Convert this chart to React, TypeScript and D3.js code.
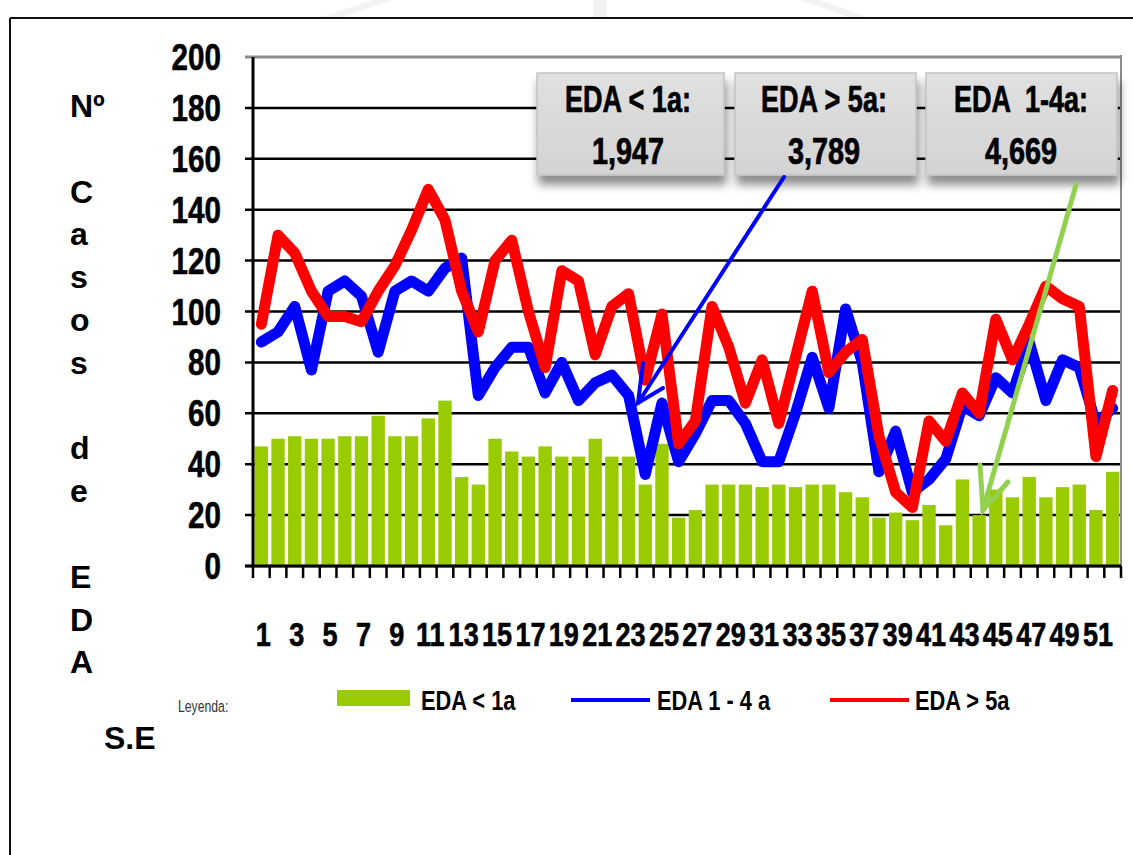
import React from 'react';
import * as d3 from 'd3';

// semanas epidemiologicas
const weeks = [
  1, 2, 3, 4, 5, 6, 7, 8, 9, 10, 11, 12, 13, 14, 15, 16, 17, 18, 19, 20, 21, 22, 23, 24, 25, 26,
  27, 28, 29, 30, 31, 32, 33, 34, 35, 36, 37, 38, 39, 40, 41, 42, 43, 44, 45, 46, 47, 48, 49, 50, 51, 52,
];

// EDA < 1a (barras)
const edaMenor1a = [
  47, 50, 51, 50, 50, 51, 51, 59, 51, 51, 58, 65, 35, 32, 50, 45, 43, 47, 43, 43, 50, 43, 43, 32, 48, 19,
  22, 32, 32, 32, 31, 32, 31, 32, 32, 29, 27, 19, 21, 18, 24, 16, 34, 20, 30, 27, 35, 27, 31, 32, 22, 37,
];

// EDA 1 - 4 a (linea azul)
const eda1a4a = [
  88, 92, 102, 77, 108, 112, 106, 84, 108, 112, 108, 117, 121, 67, 78, 86, 86, 68, 80, 65, 72, 75, 67, 36, 64, 41,
  52, 65, 65, 56, 41, 41, 60, 82, 62, 101, 80, 37, 53, 29, 34, 42, 63, 59, 74, 68, 88, 65, 81, 78, 56, 62,
];

// EDA > 5a (linea roja)
const edaMayor5a = [
  95, 130, 123, 108, 98, 98, 96, 108, 118, 132, 148, 136, 108, 92, 120, 128, 100, 78, 116, 112, 83, 102, 107, 73, 99, 48,
  57, 102, 86, 64, 81, 56, 82, 108, 76, 84, 89, 51, 29, 23, 57, 49, 68, 60, 97, 81, 95, 110, 105, 102, 43, 69,
];

const yTicks = [0, 20, 40, 60, 80, 100, 120, 140, 160, 180, 200];
const xTickLabels = [1, 3, 5, 7, 9, 11, 13, 15, 17, 19, 21, 23, 25, 27, 29, 31, 33, 35, 37, 39, 41, 43, 45, 47, 49, 51];

const boxTitles = ['EDA < 1a:', 'EDA > 5a:', 'EDA  1-4a:'];
const boxTotals = ['1,947', '3,789', '4,669'];

const sideLetters = ['Nº', '', 'C', 'a', 's', 'o', 's', '', 'd', 'e', '', 'E', 'D', 'A'];

const legendLabels = ['EDA < 1a', 'EDA 1 - 4 a', 'EDA > 5a'];

const FONT = "'Liberation Sans', Arial, Helvetica, sans-serif";
const GREEN = '#99cc00';
const BLUE = '#0000ff';
const RED = '#ff0000';

const W = 1133;
const H = 855;
const plot = { left: 253, right: 1121, top: 57, bottom: 566 };

const Narrow = ({ x, y, sx, size, anchor, weight, fill, heavy, children }: any) => (
  <text
    transform={`translate(${x},${y}) scale(${sx},1)`}
    fontFamily={FONT}
    fontSize={size}
    fontWeight={weight ?? 'bold'}
    textAnchor={anchor ?? 'start'}
    fill={fill ?? '#000'}
    stroke={heavy ? fill ?? '#000' : 'none'}
    strokeWidth={heavy ?? 0}
    style={{ whiteSpace: 'pre' }}
  >
    {children}
  </text>
);

const App = () => {
  const x = d3
    .scaleBand<number>()
    .domain(weeks)
    .range([plot.left, plot.right])
    .paddingInner(0.2)
    .paddingOuter(0.1);
  const y = d3.scaleLinear().domain([0, 200]).range([plot.bottom, plot.top]);
  const step = x.step();
  const cx = (w: number) => (x(w) ?? 0) + x.bandwidth() / 2;

  const line = d3
    .line<number>()
    .x((_, i) => cx(weeks[i]))
    .y((d) => y(d));

  // limites de cada categoria para las marcas del eje x
  const edges = weeks.map((w) => (x(w) ?? 0) - step * 0.1).concat([plot.right]);

  const boxes = [
    { x0: 537, x1: 724, tx: 628 },
    { x0: 735, x1: 916, tx: 824 },
    { x0: 926, x1: 1117, tx: 1021 },
  ];

  return (
    <div style={{ position: 'absolute', left: 0, top: 0 }}>
      <svg width={W} height={H} style={{ display: 'block', background: '#fff' }}>
        <defs>
          <filter id="boxShadow" x="-10%" y="-20%" width="120%" height="160%">
            <feDropShadow dx="2" dy="9" stdDeviation="5" floodColor="#000" floodOpacity="0.45" />
          </filter>
          <linearGradient id="boxFill" x1="0" y1="0" x2="0" y2="1">
            <stop offset="0" stopColor="#e0e0e0" />
            <stop offset="1" stopColor="#d3d3d3" />
          </linearGradient>
        </defs>

        {/* marca de agua tenue */}
        <g fill="#f3f3f3">
          <polygon points="318,18 372,0 392,0 340,18" />
          <polygon points="593,0 607,0 607,18 593,18" />
          <polygon points="800,0 820,0 870,18 850,18" />
        </g>

        {/* marco */}
        <line x1={10} y1={18} x2={W} y2={18} stroke="#111" strokeWidth={2} />
        <line x1={10} y1={18} x2={10} y2={H} stroke="#111" strokeWidth={2} />

        {/* lineas de grilla */}
        {yTicks.map((t) => (
          <line
            key={t}
            x1={plot.left - 8}
            x2={plot.right}
            y1={y(t)}
            y2={y(t)}
            stroke={t === 200 ? '#8c8c8c' : '#000'}
            strokeWidth={t === 200 ? 3 : 2.5}
          />
        ))}
        <line x1={plot.right} x2={plot.right} y1={plot.top - 2} y2={plot.bottom} stroke="#8c8c8c" strokeWidth={2} />

        {/* etiquetas eje y */}
        {yTicks.map((t) => (
          <Narrow key={t} x={221} y={y(t) + 13} sx={0.8} size={37} anchor="end" heavy={0.6}>
            {t}
          </Narrow>
        ))}

        {/* barras */}
        {edaMenor1a.map((v, i) => (
          <rect
            key={i}
            x={x(weeks[i])}
            y={y(v)}
            width={x.bandwidth()}
            height={plot.bottom - y(v)}
            fill={GREEN}
          />
        ))}

        {/* ejes */}
        <line x1={plot.left} x2={plot.left} y1={plot.top} y2={plot.bottom} stroke="#000" strokeWidth={3} />
        <line x1={plot.left - 8} x2={plot.right} y1={plot.bottom} y2={plot.bottom} stroke="#000" strokeWidth={3} />
        {edges.map((e, i) => (
          <line key={i} x1={e} x2={e} y1={plot.bottom} y2={plot.bottom + 12} stroke="#000" strokeWidth={2.5} />
        ))}

        {/* etiquetas eje x */}
        {xTickLabels.map((w) => (
          <Narrow key={w} x={cx(w) + 2} y={646} sx={0.82} size={33} anchor="middle" heavy={0.6}>
            {w}
          </Narrow>
        ))}

        {/* lineas */}
        <path d={line(eda1a4a) ?? ''} fill="none" stroke={BLUE} strokeWidth={11} strokeLinejoin="round" strokeLinecap="round" />
        <path d={line(edaMayor5a) ?? ''} fill="none" stroke={RED} strokeWidth={11} strokeLinejoin="round" strokeLinecap="round" />

        {/* cuadros de totales */}
        {boxes.map((b, i) => (
          <g key={i}>
            <rect
              x={b.x0}
              y={73}
              width={b.x1 - b.x0}
              height={102}
              fill="url(#boxFill)"
              stroke="#c2c2c2"
              strokeWidth={1.5}
              filter="url(#boxShadow)"
            />
            <Narrow x={b.tx} y={112} sx={0.73} size={37} anchor="middle" heavy={0.7}>
              {boxTitles[i]}
            </Narrow>
            <Narrow x={b.tx} y={164} sx={0.78} size={37} anchor="middle" heavy={0.7}>
              {boxTotals[i]}
            </Narrow>
          </g>
        ))}

        {/* flechas */}
        <g stroke={BLUE} strokeWidth={4} strokeLinecap="round" fill="none">
          <line x1={784} y1={177} x2={638} y2={403} />
          <polyline points="643,363 638,403 663,388" />
        </g>
        <g stroke="#92d050" strokeWidth={5} strokeLinecap="round" fill="none">
          <line x1={1076} y1={185} x2={983} y2={510} />
          <polyline points="980,465 983,510 1008,482" />
        </g>

        {/* titulo vertical */}
        {sideLetters.map((s, i) => (
          <text key={i} x={70} y={117 + i * 42.8} fontFamily={FONT} fontSize={32} fontWeight="bold" fill="#000">
            {s}
          </text>
        ))}
        <text x={104} y={749} fontFamily={FONT} fontSize={32} fontWeight="bold" fill="#000">
          S.E
        </text>

        {/* leyenda */}
        <Narrow x={178} y={712} sx={0.72} size={17} weight="normal" fill="#333">
          Leyenda:
        </Narrow>
        <rect x={337} y={690} width={73} height={16} fill={GREEN} />
        <Narrow x={421} y={710} sx={0.78} size={28}>
          {legendLabels[0]}
        </Narrow>
        <line x1={571} x2={650} y1={700} y2={700} stroke={BLUE} strokeWidth={4} />
        <Narrow x={657} y={710} sx={0.78} size={28}>
          {legendLabels[1]}
        </Narrow>
        <line x1={830} x2={909} y1={700} y2={700} stroke={RED} strokeWidth={4} />
        <Narrow x={915} y={710} sx={0.78} size={28}>
          {legendLabels[2]}
        </Narrow>
      </svg>
    </div>
  );
};

export default App;
